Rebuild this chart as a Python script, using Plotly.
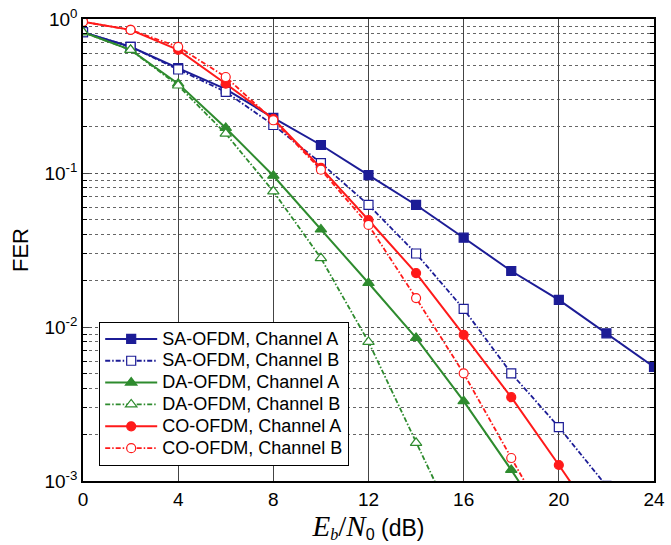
import plotly.graph_objects as go

# Eb/N0 values (dB)
x_sa_a = [0, 2, 4, 6, 8, 10, 12, 14, 16, 18, 20, 22, 24]
fer_sa_a = [0.82, 0.66, 0.48, 0.35, 0.228, 0.152, 0.097, 0.062, 0.038, 0.0231, 0.015, 0.0091, 0.0055]

x_sa_b = [0, 2, 4, 6, 8, 10, 12, 14, 16, 18, 20, 22]
fer_sa_b = [0.82, 0.66, 0.47, 0.336, 0.205, 0.116, 0.062, 0.030, 0.0131, 0.0050, 0.00224, 0.00093]

x_da_a = [0, 2, 4, 6, 8, 10, 12, 14, 16, 18, 20]
fer_da_a = [0.82, 0.63, 0.38, 0.196, 0.096, 0.043, 0.0193, 0.0085, 0.0033, 0.00118, 0.0004]

x_da_b = [0, 2, 4, 6, 8, 10, 12, 14, 16]
fer_da_b = [0.82, 0.63, 0.37, 0.18, 0.076, 0.028, 0.0080, 0.00177, 0.0004]

x_co_a = [0, 2, 4, 6, 8, 10, 12, 14, 16, 18, 20, 22]
fer_co_a = [0.96, 0.85, 0.63, 0.38, 0.225, 0.108, 0.0495, 0.0224, 0.0089, 0.0035, 0.00127, 0.00045]

x_co_b = [0, 2, 4, 6, 8, 10, 12, 14, 16, 18, 20]
fer_co_b = [0.96, 0.85, 0.66, 0.42, 0.22, 0.105, 0.046, 0.0154, 0.0050, 0.00141, 0.0004]

x_ticks = [0, 4, 8, 12, 16, 20, 24]
y_tickvals = [1, 0.1, 0.01, 0.001]
y_ticktext = ["10<sup>0</sup>", "10<sup>-1</sup>", "10<sup>-2</sup>", "10<sup>-3</sup>"]

BLUE = "#1c1c96"
GREEN = "#2e8b2e"
RED = "#ff1a1a"
DASHB = "5px,2px,1.5px,2px"

series = [
    ("SA-OFDM, Channel A", x_sa_a, fer_sa_a, BLUE, "square", True, "solid"),
    ("SA-OFDM, Channel B", x_sa_b, fer_sa_b, BLUE, "square", False, DASHB),
    ("DA-OFDM, Channel A", x_da_a, fer_da_a, GREEN, "triangle-up", True, "solid"),
    ("DA-OFDM, Channel B", x_da_b, fer_da_b, GREEN, "triangle-up", False, DASHB),
    ("CO-OFDM, Channel A", x_co_a, fer_co_a, RED, "circle", True, "solid"),
    ("CO-OFDM, Channel B", x_co_b, fer_co_b, RED, "circle", False, DASHB),
]

fig = go.Figure()
for name, xs, ys, col, sym, filled, dash in series:
    fig.add_trace(go.Scatter(
        x=xs, y=ys, name=f"<span style='font-size:18px'>{name}</span>",
        mode="lines+markers",
        line=dict(color=col, width=2 if filled else 1.8, dash=dash),
        marker=dict(symbol=sym, size=9 if sym != "triangle-up" else 10,
                    color=col if filled else "white",
                    line=dict(color=col, width=1.2)),
    ))

SANS = "Liberation Sans, Arial, sans-serif"
SERIF = "Liberation Serif, Times New Roman, serif"
axis_font = dict(family=SANS, size=19, color="black")

fig.update_layout(
    width=671, height=545,
    margin=dict(l=83, r=17, t=19, b=64),
    paper_bgcolor="white", plot_bgcolor="white",
    font=dict(family=SANS, color="black"),
    showlegend=True,
    legend=dict(
        x=0.028, y=0.033, xanchor="left", yanchor="bottom",
        bgcolor="white", bordercolor="black", borderwidth=1.2,
        font=dict(size=14.5, family=SANS),
        tracegroupgap=0, itemwidth=52,
    ),
)

fig.update_xaxes(
    range=[0, 24], tickvals=x_ticks, ticktext=[str(v) for v in x_ticks],
    tickfont=axis_font, ticks="inside", ticklen=5, mirror="ticks",
    showline=True, linecolor="black", linewidth=1.5,
    showgrid=True, gridcolor="#444", gridwidth=1, griddash="solid",
    zeroline=False, automargin=False, ticklabeloverflow="allow",
    title=dict(
        text=f"<span style='font-family:{SERIF};font-style:italic;font-size:29px'>E</span><sub><span style='font-family:{SERIF};font-style:italic'>b</span></sub>"
             f"<span style='font-family:{SERIF};font-size:29px'>/</span>"
             f"<span style='font-family:{SERIF};font-style:italic;font-size:29px'>N</span><sub>0</sub> (dB)",
        font=dict(size=23, family=SANS), standoff=4),
)

fig.update_yaxes(
    type="log", range=[-3, 0],
    tickvals=y_tickvals, ticktext=y_ticktext,
    tickfont=axis_font, ticks="inside", ticklen=6, mirror="ticks",
    showline=True, linecolor="black", linewidth=1.5,
    showgrid=True, gridcolor="#555", gridwidth=1, griddash="dot",
    minor=dict(ticks="inside", ticklen=4, tickcolor="black",
               showgrid=True, gridcolor="#666", gridwidth=1, griddash="dot",
               dtick="D1"),
    zeroline=False, automargin=False,
    title=dict(text="FER", font=dict(size=22), standoff=10),
)

fig.write_html("out.html", config={"displayModeBar": False},
               post_script="document.body.style.margin='0';document.body.style.overflow='hidden';")
